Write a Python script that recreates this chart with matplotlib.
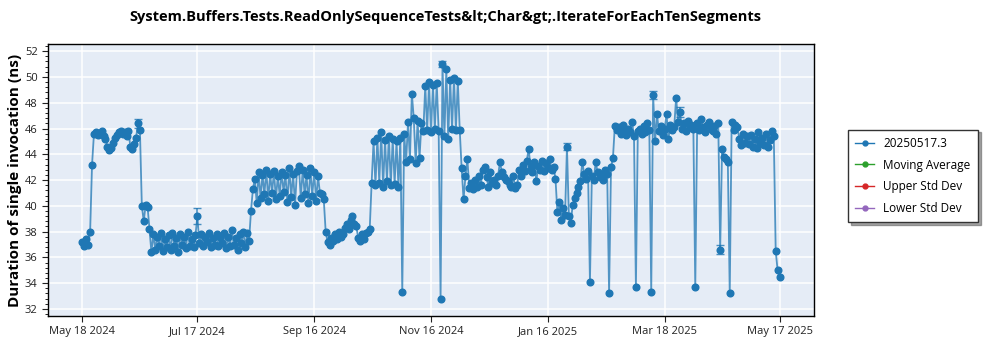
import numpy as np
import pandas as pd
import matplotlib
matplotlib.use("Agg")
import matplotlib.pyplot as plt
import matplotlib.dates as mdates
from matplotlib.ticker import MultipleLocator

plt.rcParams['font.family'] = ['Open Sans', 'DejaVu Sans']

title = "System.Buffers.Tests.ReadOnlySequenceTests&lt;Char&gt;.IterateForEachTenSegments"
series_name = "20250517.3"

# one value per day, from 2024-05-18 to 2025-05-17
first_day = "2024-05-18"
may_2024 = [37.2, 36.9, 37.4, 37.0, 38.0, 43.2, 45.6, 45.7, 45.5, 45.6, 45.8, 45.4, 45.2, 44.6]
jun_2024 = [44.3, 44.5, 44.9, 45.3, 45.5, 45.7, 45.8, 45.6, 45.7, 45.4, 45.8, 44.6, 44.4, 44.8, 45.3,
            46.4, 45.9, 40.0, 38.8, 40.1, 39.9, 38.2, 36.4, 37.8, 36.6, 37.6, 36.9, 37.9, 36.5, 37.4]
jul_2024 = [36.8, 37.7, 36.6, 37.9, 36.9, 37.5, 36.4, 37.8, 37.0, 37.6, 36.7, 38.0, 36.9, 37.4, 36.8, 37.7,
            39.2, 37.1, 37.8, 36.9, 37.6, 37.2, 37.9, 36.8, 37.5, 37.0, 37.8, 36.9, 37.6, 37.1, 37.9]
aug_2024 = [36.7, 37.6, 36.9, 38.1, 37.0, 37.5, 36.6, 37.8, 37.1, 38.0, 36.8, 37.9, 37.3, 39.6, 41.3, 42.1,
            40.2, 42.6, 40.6, 42.4, 40.9, 42.8, 40.4, 42.5, 41.0, 42.7, 40.5, 42.3, 40.8, 42.6, 41.1]
sep_2024 = [42.4, 40.3, 42.9, 40.7, 42.5, 40.1, 42.7, 43.1, 40.6, 42.8, 40.9, 42.4, 40.2, 42.9, 40.8,
            42.6, 40.4, 42.3, 41.0, 40.9, 40.5, 38.0, 37.2, 37.0, 37.5, 37.3, 37.8, 37.4, 38.0, 37.6]
oct_2024 = [37.8, 38.3, 38.6, 38.2, 38.9, 39.2, 38.6, 38.4, 37.5, 37.3, 37.8, 37.4, 37.9, 38.0, 38.2,
            41.8, 45.0, 41.6, 45.3, 41.8, 45.7, 41.5, 45.1, 41.9, 45.4, 41.6, 45.2, 41.7, 45.0, 41.5, 45.3]
nov_2024 = [33.3, 45.6, 43.4, 46.5, 43.6, 48.7, 46.8, 43.3, 46.6, 43.7, 46.4, 45.8, 49.3, 45.9, 49.6,
            45.7, 49.4, 46.0, 49.5, 45.8, 32.8, 51.0, 45.4, 50.6, 45.2, 49.8, 46.0, 49.9, 45.9, 49.7]
dec_2024 = [45.9, 42.9, 40.5, 42.3, 43.6, 41.4, 41.8, 41.3, 42.0, 41.5, 42.3, 41.6, 42.8, 43.0, 42.2, 41.5,
            42.6, 41.8, 42.0, 41.6, 42.3, 43.4, 42.6, 42.2, 42.0, 41.9, 41.6, 41.5, 42.3, 41.4, 41.6]
jan_2025 = [42.8, 42.3, 43.2, 42.7, 43.5, 44.4, 43.0, 42.6, 43.4, 41.9, 43.1, 42.8, 43.5, 42.7, 43.3, 42.9,
            43.6, 42.8, 43.0, 42.1, 39.5, 40.3, 38.9, 39.8, 39.3, 44.6, 39.2, 38.7, 40.1, 40.6, 41.0]
feb_2025 = [41.5, 41.9, 43.4, 42.5, 42.1, 42.7, 34.1, 42.3, 42.0, 43.4, 42.6, 42.2, 42.4, 42.0,
            42.8, 42.5, 33.2, 43.0, 43.7, 46.2, 45.9, 46.1, 45.6, 46.3, 45.8, 45.5, 46.0, 45.7]
mar_2025 = [46.5, 45.4, 33.7, 45.8, 46.0, 45.6, 46.2, 45.7, 46.4, 45.9, 33.3, 48.6, 45.0, 47.1, 45.8, 46.2,
            45.5, 46.0, 47.1, 45.2, 46.3, 45.9, 46.1, 48.4, 46.5, 47.3, 46.0, 46.4, 45.8, 46.6, 46.1]
apr_2025 = [46.3, 46.0, 33.7, 46.4, 45.9, 46.7, 46.1, 45.7, 46.3, 46.5, 46.0, 45.8, 46.2, 45.6, 46.4,
            36.6, 44.4, 43.8, 43.6, 43.4, 33.2, 46.5, 45.9, 46.3, 46.1, 45.2, 44.7, 45.6, 44.9, 45.4]
may_2025 = [44.8, 45.5, 44.6, 45.2, 44.5, 45.7, 44.9, 45.3, 44.7, 45.6, 44.6, 45.1, 45.8, 45.4, 36.5, 35.0, 34.5]

# the few runs that show an error bar
err_dates = ["2024-06-16", "2024-07-17", "2024-11-22", "2025-01-26", "2025-03-12", "2025-03-26", "2025-04-16"]
err_sizes = [0.35, 0.6, 0.2, 0.3, 0.3, 0.4, 0.35]

x_ticks = ["2024-05-18", "2024-07-17", "2024-09-16", "2024-11-16", "2025-01-16", "2025-03-18", "2025-05-17"]

legend_names = [series_name, "Moving Average", "Upper Std Dev", "Lower Std Dev"]
legend_colors = ["#1f77b4", "#2ca02c", "#d62728", "#9467bd"]

values = (may_2024 + jun_2024 + jul_2024 + aug_2024 + sep_2024 + oct_2024 + nov_2024 + dec_2024
          + jan_2025 + feb_2025 + mar_2025 + apr_2025 + may_2025)
dates = pd.date_range(first_day, periods=len(values), freq="D")
df = pd.DataFrame({"date": dates, "value": values}).set_index("date")

fig = plt.figure(figsize=(10, 3.5), dpi=100)
ax = fig.add_axes([0.048, 0.097, 0.766, 0.777])
ax.set_facecolor("#E5ECF6")

ax.plot(df.index, df.value, color="#1f77b4", lw=1.3, alpha=0.75, zorder=2)
ax.plot(df.index, df.value, ls="none", marker="o", ms=4.8, color="#1f77b4", zorder=3)
edates = pd.to_datetime(err_dates)
ax.errorbar(edates, df.loc[edates, "value"], yerr=err_sizes, fmt="none", ecolor="#1f77b4",
            elinewidth=1.2, capsize=3, alpha=0.8, zorder=3)

ax.set_xticks(pd.to_datetime(x_ticks))
ax.xaxis.set_major_formatter(mdates.DateFormatter("%b %d %Y"))
ax.set_xlim(pd.Timestamp("2024-04-30"), pd.Timestamp("2025-06-04"))
ax.set_ylim(31.45, 52.55)
ax.yaxis.set_major_locator(MultipleLocator(2))
ax.yaxis.set_minor_locator(MultipleLocator(0.4))
ax.grid(True, which="major", color="white", lw=1.1)
ax.set_axisbelow(True)
for s in ax.spines.values():
    s.set_color("black")
    s.set_linewidth(1)
ax.tick_params(axis="both", labelsize=8, colors="#222222", length=4)
ax.tick_params(axis="y", which="minor", length=2.5)

ax.set_ylabel("Duration of single invocation (ns)", fontsize=11, fontweight="bold", labelpad=2)
fig.suptitle(title, fontsize=10.5, fontweight="bold", x=0.445, y=0.97)

handles = [plt.Line2D([], [], color=c, marker="o", ms=3.5, lw=1) for c in legend_colors]
fig.legend(handles, legend_names, loc="center left", bbox_to_anchor=(0.848, 0.497), fontsize=8.5,
           fancybox=False, shadow=True, edgecolor="#333333", framealpha=1, handlelength=1.6,
           borderpad=0.6, labelspacing=0.75, borderaxespad=0)

fig.savefig("out.png", dpi=100)
